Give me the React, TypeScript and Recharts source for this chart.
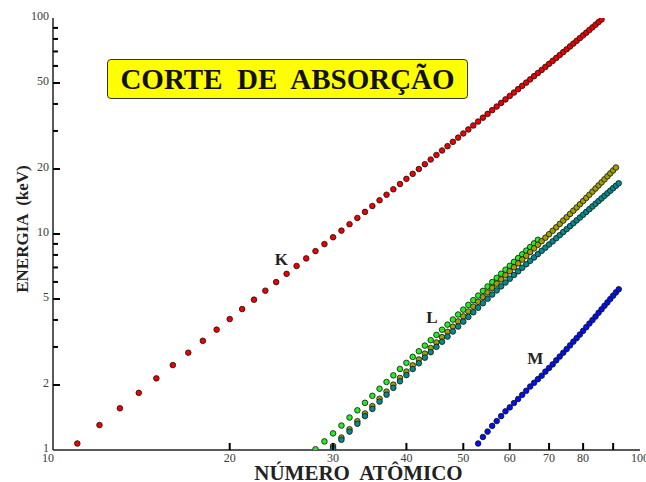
import { ScatterChart, Scatter, XAxis, YAxis, ReferenceDot, Label } from "recharts";

// absorption edges in keV, one value per atomic number starting at the given Z
const kStartZ = 11;
const kEdge = [
  1.072, 1.305, 1.560, 1.839, 2.146, 2.472, 2.822, 3.203, 3.607, 4.038,
  4.493, 4.966, 5.465, 5.989, 6.539, 7.112, 7.709, 8.333, 8.979, 9.659,
  10.367, 11.103, 11.867, 12.658, 13.474, 14.326, 15.200, 16.105, 17.038, 17.998,
  18.986, 20.000, 21.044, 22.117, 23.220, 24.350, 25.514, 26.711, 27.940, 29.200,
  30.491, 31.814, 33.169, 34.561, 35.985, 37.441, 38.925, 40.443, 41.991, 43.569,
  45.184, 46.834, 48.519, 50.239, 51.996, 53.789, 55.618, 57.486, 59.390, 61.332,
  63.314, 65.351, 67.416, 69.525, 71.676, 73.871, 76.111, 78.395, 80.725, 83.102,
  85.530, 88.005, 90.526, 93.105, 95.730, 98.404,
];

const l1StartZ = 28;
const l1Edge = [
  1.008, 1.096, 1.194, 1.298, 1.414, 1.527, 1.654, 1.782, 1.921, 2.065,
  2.216, 2.373, 2.532, 2.698, 2.866, 3.043, 3.224, 3.412, 3.604, 3.806,
  4.018, 4.238, 4.465, 4.698, 4.939, 5.188, 5.453, 5.714, 5.989, 6.266,
  6.549, 6.835, 7.126, 7.428, 7.737, 8.052, 8.376, 8.708, 9.046, 9.394,
];

const l2StartZ = 30;
const l2Edge = [
  1.043, 1.142, 1.248, 1.359, 1.476, 1.596, 1.727, 1.864, 2.007, 2.156,
  2.307, 2.465, 2.625, 2.793, 2.967, 3.146, 3.330, 3.524, 3.727, 3.938,
  4.156, 4.380, 4.612, 4.852, 5.104, 5.359, 5.624, 5.891, 6.164, 6.440,
  6.722, 7.013, 7.312, 7.617, 7.930, 8.252, 8.581, 8.918, 9.264, 9.617,
  9.978, 10.349, 10.739, 11.136, 11.544, 11.959, 12.385, 12.824, 13.273, 13.734,
  14.209, 14.698, 15.200, 15.711, 16.244, 16.785, 17.337, 17.907, 18.484, 19.083,
  19.693, 20.314,
];

const l3StartZ = 30;
const l3Edge = [
  1.020, 1.115, 1.217, 1.323, 1.436, 1.550, 1.675, 1.804, 1.940, 2.080,
  2.222, 2.371, 2.520, 2.677, 2.838, 3.004, 3.173, 3.351, 3.538, 3.730,
  3.929, 4.132, 4.341, 4.557, 4.782, 5.012, 5.247, 5.483, 5.723, 5.964,
  6.208, 6.459, 6.716, 6.977, 7.243, 7.514, 7.790, 8.071, 8.358, 8.648,
  8.944, 9.244, 9.561, 9.881, 10.207, 10.535, 10.871, 11.215, 11.564, 11.919,
  12.284, 12.658, 13.035, 13.419, 13.814, 14.214, 14.619, 15.031, 15.444, 15.871,
  16.300, 16.733, 17.166,
];

const mStartZ = 53;
const m1Edge = [
  1.072, 1.149, 1.217, 1.293, 1.361, 1.435, 1.511, 1.575, 1.650, 1.723,
  1.800, 1.881, 1.968, 2.047, 2.128, 2.207, 2.307, 2.398, 2.491, 2.601,
  2.708, 2.820, 2.932, 3.049, 3.174, 3.296, 3.425, 3.562, 3.704, 3.851,
  3.999, 4.149, 4.317, 4.482, 4.652, 4.822, 5.002, 5.182, 5.367, 5.548,
];

const xTicks = [10, 20, 30, 40, 50, 60, 70, 80, 90, 100];
const xLabelled = [10, 20, 30, 40, 50, 60, 70, 80, 100];
const yTicks = [1, 2, 3, 4, 5, 6, 7, 8, 9, 10, 20, 30, 40, 50, 60, 70, 80, 90, 100];
const yLabelled = [1, 2, 5, 10, 20, 50, 100];

const shellNames = ["K", "L", "M"];
const shellLabelZ = [24.5, 44.2, 66.3];
const shellLabelE = [7.65, 4.13, 2.67];

const serif = "'Liberation Serif', 'Times New Roman', serif";
const axisColor = "#222";

const toPoints = (startZ: number, energies: number[]) =>
  energies.map((e, i) => ({ z: startZ + i, e }));

const dot = (fill: string) => (props: any) => (
  <circle cx={props.cx} cy={props.cy} r={2.8} fill={fill} stroke="#111" strokeWidth={0.8} />
);

// tick marks point into the plot, like the original figure
const renderXTick = (p: any) => {
  const v = p.payload.value;
  return (
    <g>
      <line
        x1={p.x}
        y1={p.y}
        x2={p.x}
        y2={p.y - 7}
        stroke="#000"
        strokeWidth={2}
        strokeOpacity={v > 10 && v < 100 ? 1 : 0}
      />
      <text
        x={v === 10 ? p.x - 5 : p.x}
        y={p.y + 12}
        textAnchor="middle"
        fontSize={12}
        fill="#3a3a3a"
        fontFamily={serif}
      >
        {xLabelled.includes(v) ? String(v) : ""}
      </text>
    </g>
  );
};

const renderYTick = (p: any) => {
  const v = p.payload.value;
  const major = yLabelled.includes(v);
  return (
    <g>
      <line
        x1={p.x}
        y1={p.y}
        x2={p.x + (major ? 7 : 5)}
        y2={p.y}
        stroke="#000"
        strokeWidth={2}
        strokeOpacity={v > 1 && v < 100 ? 1 : 0}
      />
      <text x={p.x - 4} y={p.y + 2} textAnchor="end" fontSize={12} fill="#3a3a3a" fontFamily={serif}>
        {major ? String(v) : ""}
      </text>
    </g>
  );
};

export default function App() {
  return (
    <div style={{ position: "absolute", left: 0, top: 0, width: 646, height: 482, background: "#fff" }}>
      <ScatterChart width={646} height={482} margin={{ top: 18, right: 6, bottom: 0, left: 0 }}>
        <XAxis
          dataKey="z"
          type="number"
          scale="log"
          domain={[10, 100]}
          allowDataOverflow
          ticks={xTicks}
          interval={0}
          tick={renderXTick}
          tickLine={false}
          tickSize={0}
          tickMargin={0}
          height={32}
          axisLine={{ stroke: axisColor, strokeWidth: 1.5 }}
        >
          <Label
            content={(p: any) => (
              <text
                x={p.viewBox.x + p.viewBox.width / 2 + 12}
                y={p.viewBox.y + 30}
                textAnchor="middle"
                fontSize={21}
                fontWeight="bold"
                fill="#222"
                fontFamily={serif}
                style={{ whiteSpace: "pre" }}
              >
                {"NÚMERO  ATÔMICO"}
              </text>
            )}
          />
        </XAxis>
        <XAxis
          xAxisId="top"
          orientation="top"
          type="number"
          scale="log"
          domain={[10, 100]}
          height={0}
          tick={false}
          tickLine={false}
          axisLine={{ stroke: axisColor, strokeWidth: 1.5 }}
        />
        <YAxis
          dataKey="e"
          type="number"
          scale="log"
          domain={[1, 100]}
          allowDataOverflow
          ticks={yTicks}
          interval={0}
          tick={renderYTick}
          tickLine={false}
          tickSize={0}
          tickMargin={0}
          width={53}
          axisLine={{ stroke: axisColor, strokeWidth: 1.5 }}
        >
          <Label
            content={() => (
              <text
                x={22}
                y={229}
                transform="rotate(-90 22 229)"
                textAnchor="middle"
                dominantBaseline="central"
                fontSize={17}
                fontWeight="bold"
                fill="#222"
                fontFamily={serif}
                style={{ whiteSpace: "pre" }}
              >
                {"ENERGIA  (keV)"}
              </text>
            )}
          />
        </YAxis>
        <YAxis
          yAxisId="right"
          orientation="right"
          type="number"
          scale="log"
          domain={[1, 100]}
          width={0}
          tick={false}
          tickLine={false}
          axisLine={{ stroke: axisColor, strokeWidth: 1.5 }}
        />

        <Scatter data={toPoints(kStartZ, kEdge)} shape={dot("#ee0000")} isAnimationActive={false} />
        <Scatter data={toPoints(l1StartZ, l1Edge)} shape={dot("#22ee22")} isAnimationActive={false} />
        <Scatter data={toPoints(l2StartZ, l2Edge)} shape={dot("#a0a000")} isAnimationActive={false} />
        <Scatter data={toPoints(l3StartZ, l3Edge)} shape={dot("#008c8c")} isAnimationActive={false} />
        <Scatter data={toPoints(mStartZ, m1Edge)} shape={dot("#0010ee")} isAnimationActive={false} />

        {shellNames.map((name, i) => (
          <ReferenceDot
            key={name}
            x={shellLabelZ[i]}
            y={shellLabelE[i]}
            r={0}
            fill="none"
            stroke="none"
            label={{
              value: name,
              position: "center",
              fontSize: 17,
              fontWeight: "bold",
              fill: "#222",
              fontFamily: serif,
            }}
          />
        ))}
      </ScatterChart>
      <div
        style={{
          position: "absolute",
          left: 107,
          top: 59,
          width: 361,
          height: 40,
          boxSizing: "border-box",
          background: "#ffff00",
          border: "1.5px solid #333",
          borderRadius: 4,
          display: "flex",
          alignItems: "center",
          justifyContent: "center",
          fontFamily: serif,
          fontWeight: "bold",
          fontSize: 29,
          color: "#111",
          whiteSpace: "pre",
        }}
      >
        {"CORTE  DE  ABSORÇÃO"}
      </div>
    </div>
  );
}
